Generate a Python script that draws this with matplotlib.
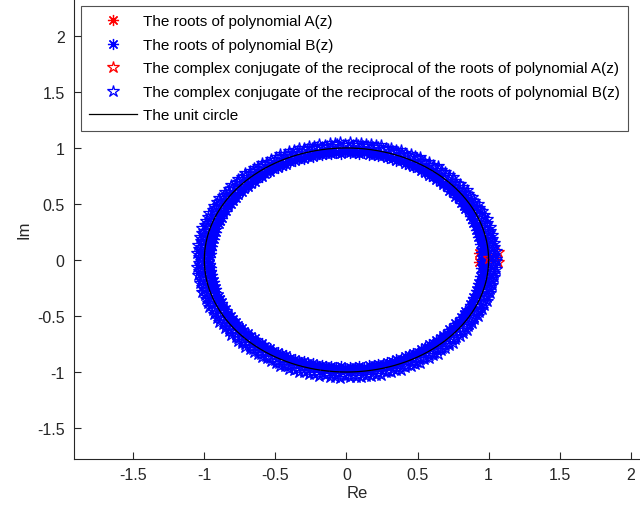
import numpy as np
import matplotlib
matplotlib.use("Agg")
import matplotlib.pyplot as plt

plt.rcParams['font.family'] = ['Liberation Sans', 'DejaVu Sans']

# Roots of A(z) (clustered near z = 1)
a_roots_re = [0.935, 0.935, 0.995]
a_roots_im = [0.065, -0.015, 0.020]

# Roots of B(z): upper half-plane angles (degrees) and radii; lower half are conjugates
b_angles_deg = [
    0.5, 1.5, 2.5, 3.5, 4.5, 5.5, 6.5, 7.5, 8.5, 9.5, 10.5, 11.5, 12.5, 13.5, 14.5,
    15.5, 16.5, 17.5, 18.5, 19.5, 20.5, 21.5, 22.5, 23.5, 24.5, 25.5, 26.5, 27.5, 28.5, 29.5,
    30.5, 31.5, 32.5, 33.5, 34.5, 35.5, 36.5, 37.5, 38.5, 39.5, 40.5, 41.5, 42.5, 43.5, 44.5,
    45.5, 46.5, 47.5, 48.5, 49.5, 50.5, 51.5, 52.5, 53.5, 54.5, 55.5, 56.5, 57.5, 58.5, 59.5,
    60.5, 61.5, 62.5, 63.5, 64.5, 65.5, 66.5, 67.5, 68.5, 69.5, 70.5, 71.5, 72.5, 73.5, 74.5,
    75.5, 76.5, 77.5, 78.5, 79.5, 80.5, 81.5, 82.5, 83.5, 84.5, 85.5, 86.5, 87.5, 88.5, 89.5,
    90.5, 91.5, 92.5, 93.5, 94.5, 95.5, 96.5, 97.5, 98.5, 99.5, 100.5, 101.5, 102.5, 103.5, 104.5,
    105.5, 106.5, 107.5, 108.5, 109.5, 110.5, 111.5, 112.5, 113.5, 114.5, 115.5, 116.5, 117.5, 118.5, 119.5,
    120.5, 121.5, 122.5, 123.5, 124.5, 125.5, 126.5, 127.5, 128.5, 129.5, 130.5, 131.5, 132.5, 133.5, 134.5,
    135.5, 136.5, 137.5, 138.5, 139.5, 140.5, 141.5, 142.5, 143.5, 144.5, 145.5, 146.5, 147.5, 148.5, 149.5,
    150.5, 151.5, 152.5, 153.5, 154.5, 155.5, 156.5, 157.5, 158.5, 159.5, 160.5, 161.5, 162.5, 163.5, 164.5,
    165.5, 166.5, 167.5, 168.5, 169.5, 170.5, 171.5, 172.5, 173.5, 174.5, 175.5, 176.5, 177.5, 178.5, 179.5,
]
b_radii = [
    0.952, 0.972, 0.960, 0.976, 0.950, 0.969, 0.957, 0.974, 0.953, 0.970, 0.962, 0.977, 0.951, 0.968, 0.958,
    0.975, 0.952, 0.971, 0.961, 0.976, 0.950, 0.969, 0.957, 0.974, 0.953, 0.970, 0.962, 0.977, 0.951, 0.968,
    0.958, 0.975, 0.952, 0.971, 0.961, 0.976, 0.950, 0.969, 0.957, 0.974, 0.953, 0.970, 0.962, 0.977, 0.951,
    0.968, 0.958, 0.975, 0.952, 0.971, 0.961, 0.976, 0.950, 0.969, 0.957, 0.974, 0.953, 0.970, 0.962, 0.977,
    0.951, 0.968, 0.958, 0.975, 0.952, 0.971, 0.961, 0.976, 0.950, 0.969, 0.957, 0.974, 0.953, 0.970, 0.962,
    0.977, 0.951, 0.968, 0.958, 0.975, 0.952, 0.971, 0.961, 0.976, 0.950, 0.969, 0.957, 0.974, 0.953, 0.970,
    0.962, 0.977, 0.951, 0.968, 0.958, 0.975, 0.952, 0.971, 0.961, 0.976, 0.950, 0.969, 0.957, 0.974, 0.953,
    0.970, 0.962, 0.977, 0.951, 0.968, 0.958, 0.975, 0.952, 0.971, 0.961, 0.976, 0.950, 0.969, 0.957, 0.974,
    0.953, 0.970, 0.962, 0.977, 0.951, 0.968, 0.958, 0.975, 0.952, 0.971, 0.961, 0.976, 0.950, 0.969, 0.957,
    0.974, 0.953, 0.970, 0.962, 0.977, 0.951, 0.968, 0.958, 0.975, 0.952, 0.971, 0.961, 0.976, 0.950, 0.969,
    0.957, 0.974, 0.953, 0.970, 0.962, 0.977, 0.951, 0.968, 0.958, 0.975, 0.952, 0.971, 0.961, 0.976, 0.950,
    0.969, 0.957, 0.974, 0.953, 0.970, 0.962, 0.977, 0.951, 0.968, 0.958, 0.975, 0.952, 0.971, 0.961, 0.976,
]

x_ticks = [-1.5, -1, -0.5, 0, 0.5, 1, 1.5, 2]
y_ticks = [-1.5, -1, -0.5, 0, 0.5, 1, 1.5, 2]

zA = np.array(a_roots_re) + 1j * np.array(a_roots_im)
zB_upper = np.array(b_radii) * np.exp(1j * np.deg2rad(b_angles_deg))
zB = np.concatenate([zB_upper, np.conj(zB_upper)])

# complex conjugate of the reciprocal: 1 / conj(z)
wA = 1.0 / np.conj(zA)
wB = 1.0 / np.conj(zB)

theta = np.linspace(0, 2 * np.pi, 721)

fig = plt.figure(figsize=(6.40, 5.06), dpi=100)
ax = fig.add_axes([0.116, 0.0917, 0.884, 0.9083])

ms_ast = 8
ms_star = 9
ax.plot(zA.real, zA.imag, linestyle='none', marker=(8, 2, 0), color='red',
        markersize=ms_ast, markeredgewidth=0.9, label='The roots of polynomial A(z)')
ax.plot(zB.real, zB.imag, linestyle='none', marker=(8, 2, 0), color='blue',
        markersize=ms_ast, markeredgewidth=0.9, label='The roots of polynomial B(z)')
ax.plot(wA.real, wA.imag, linestyle='none', marker='*', color='red',
        markerfacecolor='none', markersize=ms_star, markeredgewidth=0.9,
        label='The complex conjugate of the reciprocal of the roots of polynomial A(z)')
ax.plot(wB.real, wB.imag, linestyle='none', marker='*', color='blue',
        markerfacecolor='none', markersize=ms_star, markeredgewidth=0.9,
        label='The complex conjugate of the reciprocal of the roots of polynomial B(z)')
ax.plot(np.cos(theta), np.sin(theta), color='black', linewidth=0.9,
        label='The unit circle')

ax.set_xlim(-1.915, 2.065)
ax.set_ylim(-1.773, 2.33)
ax.set_xticks(x_ticks)
ax.set_yticks(y_ticks)
ax.set_xticklabels([f'{v:g}' for v in x_ticks])
ax.set_yticklabels([f'{v:g}' for v in y_ticks])

for side in ('top', 'right'):
    ax.spines[side].set_visible(False)
for side in ('left', 'bottom'):
    ax.spines[side].set_color('#262626')
    ax.spines[side].set_linewidth(0.8)
ax.tick_params(direction='in', length=5, width=0.8, colors='#262626',
               labelsize=11.5, labelcolor='#262626')
ax.tick_params(axis='y', pad=7)
ax.tick_params(axis='x', pad=6)

ax.set_xlabel('Re', fontsize=12, color='#262626', labelpad=2)
ax.set_ylabel('Im', fontsize=12, color='#262626', labelpad=4)

leg = ax.legend(loc='upper left', bbox_to_anchor=(0.1266, 0.986),
                bbox_transform=fig.transFigure, fontsize=11,
                frameon=True, fancybox=False, edgecolor='#262626',
                handlelength=3.1, handletextpad=0.4, labelspacing=0.62,
                borderpad=0.55, borderaxespad=0.0, numpoints=1)
leg.get_frame().set_linewidth(0.8)

fig.savefig('out.png', dpi=100)
